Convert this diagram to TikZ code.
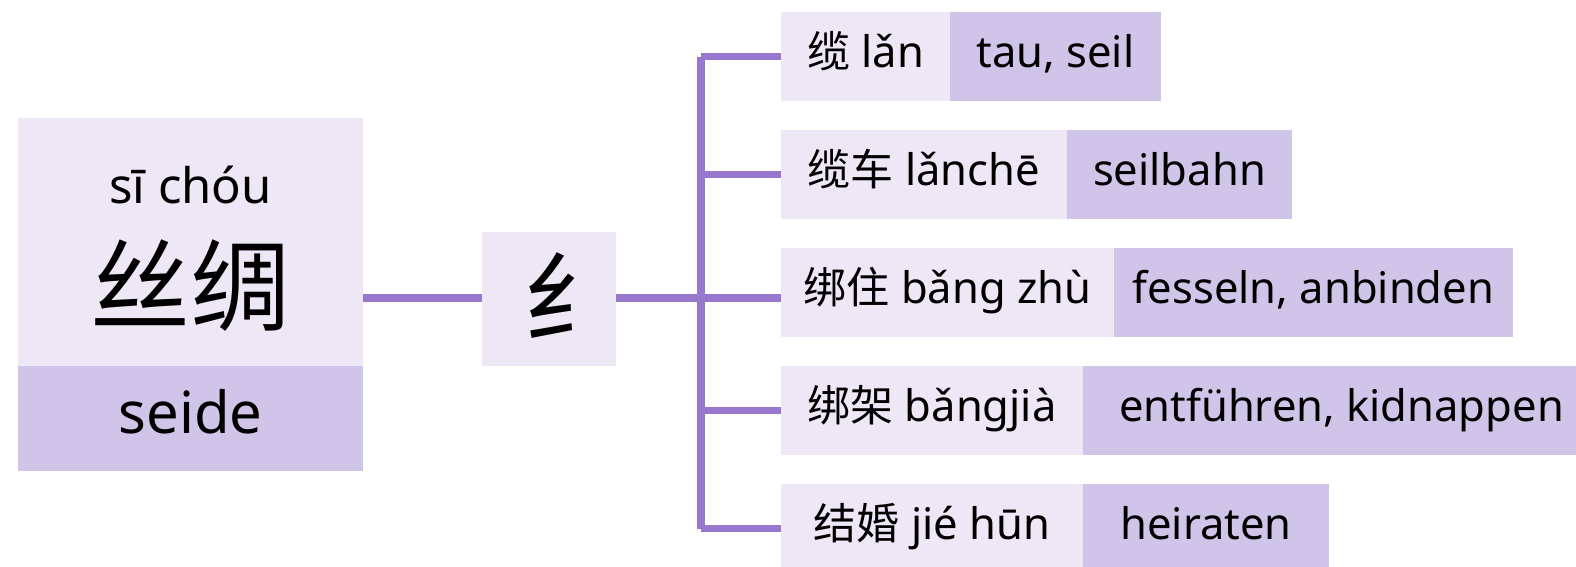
\documentclass[tikz,border=0pt]{standalone}
\usepackage{fontspec}
\setmainfont{Noto Sans}
\newfontfamily\cjk{Noto Sans CJK SC}
\definecolor{lite}{HTML}{EDE7F6}
\definecolor{deep}{HTML}{D1C4E9}
\definecolor{wire}{HTML}{9878CF}
\newcommand\zhtext[1]{{\cjk\fontsize{43}{50}\selectfont #1}}
\begin{document}
\begin{tikzpicture}[x=1pt,y=-1pt,
  box/.style={inner sep=0pt, outer sep=0pt, anchor=north west, draw=none},
  litebox/.style={box, fill=lite},
  deepbox/.style={box, fill=deep},
  rowtxt/.style={font=\fontsize{43.5}{50}\selectfont, text height=32pt, text depth=11pt, minimum height=89pt},
  link/.style={draw=wire, line width=7.5pt},
]
\useasboundingbox (0,0) rectangle (1576,566);
\clip (0,0) rectangle (1576,566);
% main card
\node[litebox, minimum width=345pt, minimum height=248pt] (main) at (18,118) {};
\node[deepbox, minimum width=345pt, minimum height=105pt, font=\fontsize{58}{62}\selectfont, text height=42pt, text depth=13pt] (gloss) at (18,366) {seide};
\node[anchor=base, inner sep=0pt, font=\fontsize{49}{56}\selectfont] (pinyin) at (190.5,203) {sī chóu};
\node[anchor=base, inner sep=0pt, font=\cjk\fontsize{100}{110}\selectfont] (hanzi) at (190.5,323) {丝绸};
% radical
\node[litebox, minimum width=134pt, minimum height=134pt] (rad) at (482,232) {};
\node[anchor=base, inner sep=0pt, font=\cjk\fontsize{100}{110}\selectfont] (radch) at (573,335) {纟};
% rows
\node[litebox, rowtxt, minimum width=169pt] (l1) at (781,12) {\zhtext{缆} lǎn};
\node[deepbox, rowtxt, minimum width=211pt] (d1) at (950,12) {tau, seil};
\node[litebox, rowtxt, minimum width=286pt] (l2) at (781,130) {\zhtext{缆车} lǎnchē};
\node[deepbox, rowtxt, minimum width=225pt] (d2) at (1067,130) {seilbahn};
\node[litebox, rowtxt, minimum width=333pt] (l3) at (781,248) {\zhtext{绑住} bǎng zhù};
\node[deepbox, rowtxt, minimum width=399pt] (d3) at (1114,248) {fesseln, anbinden};
\node[litebox, rowtxt, minimum width=302pt] (l4) at (781,366) {\zhtext{绑架} bǎngjià};
\node[deepbox, rowtxt, minimum width=517pt] (d4) at (1083,366) {entführen, kidnappen};
\node[litebox, rowtxt, minimum width=302pt] (l5) at (781,484) {\zhtext{结婚} jié hūn};
\node[deepbox, rowtxt, minimum width=246pt] (d5) at (1083,484) {heiraten};
% connectors
\coordinate (j) at (701,298);
\coordinate (ttop) at (701,56.5);
\coordinate (tbot) at (701,528.5);
\draw[link] (main.east |- j) -- (rad.west |- j);
\draw[link] (rad.east |- j) -- (l3.west |- j);
\draw[link] (ttop) -- (tbot);
\draw[link] (ttop) -- (l1.west);
\draw[link] (ttop |- l2.west) -- (l2.west);
\draw[link] (ttop |- l4.west) -- (l4.west);
\draw[link] (tbot) -- (l5.west);
\end{tikzpicture}
\end{document}
